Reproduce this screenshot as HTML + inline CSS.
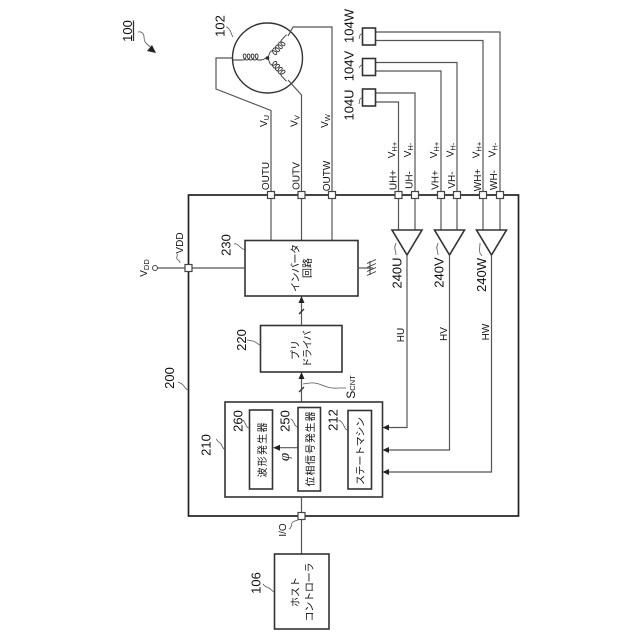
<!DOCTYPE html>
<html><head><meta charset="utf-8"><style>
html,body{margin:0;padding:0;background:#fff}
svg{display:block}
text{font-family:"Liberation Sans","Noto Sans CJK JP",sans-serif;fill:#111;text-anchor:middle}
.l{fill:none;stroke:#555;stroke-width:1.2}
.d{fill:none;stroke:#333;stroke-width:1.3}
.b{fill:#fff;stroke:#333;stroke-width:1.6}
.t{fill:#fff;stroke:#444;stroke-width:1.2}
.w{fill:none;stroke:#555;stroke-width:.8}
.c{fill:none;stroke:#333;stroke-width:.9}
.n{font-size:13px}
.s{font-size:10px}
.j{font-size:10px}
.a{fill:#222;stroke:none}
tspan.u{font-size:7.5px}
</style></head><body>
<svg width="640" height="640" viewBox="0 0 640 640" xmlns="http://www.w3.org/2000/svg">
<!-- outer box -->
<rect x="188.5" y="195" width="330" height="321" fill="none" stroke="#222" stroke-width="1.7"/>

<!-- motor -->
<circle cx="267.5" cy="58" r="35" fill="#fff" stroke="#333" stroke-width="1.4"/>
<circle cx="267.5" cy="58" r="1.8" fill="#222"/>
<path class="c" transform="translate(267.5 58)" d="M0 0c-3 0-4 2-6 2h-3c-3 0-4.500-6-2-6s2 6-2 6c-3 0-4.500-6-2-6s2 6-2 6c-3 0-4.500-6-2-6s2 6-2 6c-3 0-4.500-6-2-6s2 6-2 6h-10"/>
<path class="c" transform="translate(267.5 58) rotate(133)" d="M0 0c-3 0-4 2-6 2h-1c-3 0-4.500-6-2-6s2 6-2 6c-3 0-4.500-6-2-6s2 6-2 6c-3 0-4.500-6-2-6s2 6-2 6c-3 0-4.500-6-2-6s2 6-2 6h-7"/>
<path class="c" transform="translate(267.5 58) rotate(-133)" d="M0 0c-3 0-4-2-6-2h-1c-3 0-4.500 6-2 6s2-6-2-6c-3 0-4.500 6-2 6s2-6-2-6c-3 0-4.500 6-2 6s2-6-2-6c-3 0-4.500 6-2 6s2-6-2-6h-7"/>
<path class="w" d="M233 37c-2-3-2-6-4-8s-2-2-3-2"/>

<!-- motor output lines -->
<path class="l" d="M232 58H216V89L271 110.500V240"/>
<path class="l" d="M288 80L301.500 95V240"/>
<path class="l" d="M288 36L293 27H332V240"/>

<!-- Hall sensors -->
<path class="l" d="M375 32H500V230"/>
<path class="l" d="M375 40.500H483V230"/>
<path class="l" d="M375 62.500H457V230"/>
<path class="l" d="M375 71H441V230"/>
<path class="l" d="M375 93H415V230"/>
<path class="l" d="M375 102H398.500V230"/>
<rect class="b" x="362.500" y="28" width="13" height="17"/>
<rect class="b" x="362.500" y="58.500" width="13" height="17"/>
<rect class="b" x="362.500" y="89" width="13" height="17"/>
<path class="w" d="M362 34c-3 0-2 3-3 5"/>
<path class="w" d="M362 65c-2 0-2 2-3 3"/>
<path class="w" d="M362 98c-3 0-2 3-3 6"/>

<!-- amps -->
<path class="b" fill="#fff" d="M392 230H422L407 255Z"/>
<path class="b" d="M434.500 230H464.500L449.500 255Z"/>
<path class="b" d="M476.500 230H506.500L491.500 255Z"/>
<path class="l" d="M407 255V427.500H388"/>
<path class="l" d="M449.500 255V450H388"/>
<path class="l" d="M491.500 255V472H388"/>
<path class="a" d="M382.500 427.500L389 424.500V430.500Z"/>
<path class="a" d="M382.500 450L389 447V453Z"/>
<path class="a" d="M382.500 472L389 469V475Z"/>
<path class="w" d="M396 243c0 2-2 3-1 6c0 3 1 2 1 6"/>
<path class="w" d="M438 243c0 2-2 3-1 6c0 3 1 2 1 6"/>
<path class="w" d="M480 243c0 4-1 7 0 10c0 1 1 1 2 3"/>

<!-- inverter -->
<rect class="b" x="245" y="240.500" width="113" height="55.500"/>
<path class="l" d="M155 268H245"/>
<path class="l" d="M358 268H373"/>
<path class="c" d="M370 261V275M367 263.500L376 259.500M367 267.500L376 263.500M367 271.500L376 267.500M367 275.500L376 271.500"/>
<circle cx="155" cy="268" r="2.500" fill="#fff" stroke="#444" stroke-width="1"/>
<path class="w" d="M180 263c0-3-2-2-3-4s1-3 0-5"/>
<path class="w" d="M245 250c-3-1-5-3-7-5s-3-1-4-1"/>

<!-- predriver -->
<rect class="b" x="260.500" y="325.500" width="81.500" height="46.500"/>
<path class="l" d="M301.500 325.500V300"/>
<path class="a" d="M301.500 296L298.500 303H304.500Z"/>
<path class="d" stroke-width=".9" d="M299 314L304 309"/>
<path class="l" d="M301.500 402V376"/>
<path class="a" d="M301.500 372L298.500 379H304.500Z"/>
<path class="d" stroke-width=".9" d="M299 392L304 387"/>
<path class="w" d="M303 384c6-1 10-2 16 0s10 5 20 4h7"/>
<path class="w" d="M260 345c-3-1-5-4-7-4s-4-1-6-1"/>

<!-- block 210 -->
<rect class="b" x="225" y="402" width="157.500" height="95"/>
<rect class="b" x="249.500" y="410" width="23" height="79"/>
<rect class="b" x="298" y="407.500" width="22.500" height="83.500"/>
<rect class="b" x="348" y="410.500" width="23.500" height="78.500"/>
<path class="l" d="M297.500 447.700H278"/>
<path class="a" d="M273 447.700L280 444.700V450.700Z"/>
<path class="w" d="M225 450c-3-2-3-6-5-7s-3-3-4-4"/>
<path class="w" d="M249 428c-2 0-3-3-4-5s-2-3-3-3"/>
<path class="w" d="M297.500 427c-2 0-3-3-4-5s-2-3-3-3"/>
<path class="w" d="M347.500 430c-2 0-3-3-4-5s-2-4-5-5"/>
<path class="w" d="M188 390c-3-1-3-3-5-5s-3-2-5-3"/>

<!-- I/O and host -->
<path class="l" d="M301.500 497V554"/>
<rect class="b" x="274.500" y="554" width="54.500" height="75"/>
<path class="w" d="M298 520c-3 1-5 1-6 3s0 5-3 6"/>
<path class="w" d="M274 592c-2-1-3-3-5-4s-4-1-6-4"/>

<!-- terminals -->
<g class="t">
<rect x="267.500" y="191.500" width="7" height="7"/>
<rect x="298" y="191.500" width="7" height="7"/>
<rect x="328.500" y="191.500" width="7" height="7"/>
<rect x="395" y="191.500" width="7" height="7"/>
<rect x="411.500" y="191.500" width="7" height="7"/>
<rect x="437.500" y="191.500" width="7" height="7"/>
<rect x="453.500" y="191.500" width="7" height="7"/>
<rect x="479.500" y="191.500" width="7" height="7"/>
<rect x="496.500" y="191.500" width="7" height="7"/>
<rect x="185" y="264.500" width="7" height="7"/>
<rect x="298" y="512.500" width="7" height="7"/>
</g>

<!-- ref 100 -->
<path class="d" stroke-width="1.200" d="M133.500 20.500V41"/>
<path class="w" d="M138 32c4-1 6 2 6 5s1 6 4 8s3 3 4 4"/>
<path class="a" d="M156 53L147 51L152 45Z"/>

<!-- numbers -->
<g class="n">
<text transform="translate(132 31) rotate(-90)">100</text>
<text transform="translate(224.500 26) rotate(-90)">102</text>
<text transform="translate(353.500 26) rotate(-90)">104W</text>
<text transform="translate(353.500 66) rotate(-90)">104V</text>
<text transform="translate(353.500 105) rotate(-90)">104U</text>
<text transform="translate(230.500 245) rotate(-90)">230</text>
<text transform="translate(246 340) rotate(-90)">220</text>
<text transform="translate(174 378) rotate(-90)">200</text>
<text transform="translate(210.500 445) rotate(-90)">210</text>
<text transform="translate(242.500 421) rotate(-90)">260</text>
<text transform="translate(289.500 421) rotate(-90)">250</text>
<text transform="translate(337.500 420) rotate(-90)">212</text>
<text transform="translate(260.500 583) rotate(-90)">106</text>
<text transform="translate(401.500 273) rotate(-90)">240U</text>
<text transform="translate(443.500 272.500) rotate(-90)">240V</text>
<text transform="translate(486 275) rotate(-90)">240W</text>
</g>

<!-- signal labels -->
<g class="s">
<text transform="translate(269 176) rotate(-90)">OUTU</text>
<text transform="translate(299.500 176) rotate(-90)">OUTV</text>
<text transform="translate(330 176) rotate(-90)">OUTW</text>
<text transform="translate(267 121) rotate(-90)">V<tspan class="u" dy="2">U</tspan></text>
<text transform="translate(297.500 121) rotate(-90)">V<tspan class="u" dy="2">V</tspan></text>
<text transform="translate(328 121) rotate(-90)">V<tspan class="u" dy="2">W</tspan></text>
<text transform="translate(396.500 180) rotate(-90)">UH+</text>
<text transform="translate(412.500 180) rotate(-90)">UH-</text>
<text transform="translate(438.500 180) rotate(-90)">VH+</text>
<text transform="translate(455 180) rotate(-90)">VH-</text>
<text transform="translate(481 180) rotate(-90)">WH+</text>
<text transform="translate(497 180) rotate(-90)">WH-</text>
<text transform="translate(395 150) rotate(-90)">V<tspan class="u" dy="2">H+</tspan></text>
<text transform="translate(411 150) rotate(-90)">V<tspan class="u" dy="2">H-</tspan></text>
<text transform="translate(437 150) rotate(-90)">V<tspan class="u" dy="2">H+</tspan></text>
<text transform="translate(453.500 150) rotate(-90)">V<tspan class="u" dy="2">H-</tspan></text>
<text transform="translate(479.500 150) rotate(-90)">V<tspan class="u" dy="2">H+</tspan></text>
<text transform="translate(495.500 150) rotate(-90)">V<tspan class="u" dy="2">H-</tspan></text>
<text transform="translate(147 268) rotate(-90)">V<tspan class="u" dy="2">DD</tspan></text>
<text transform="translate(183 243) rotate(-90)">VDD</text>
<text transform="translate(404 335) rotate(-90)">HU</text>
<text transform="translate(447 334) rotate(-90)">HV</text>
<text transform="translate(489 332) rotate(-90)">HW</text>
<text transform="translate(286 530) rotate(-90)">I/O</text>
<text transform="translate(355 387) rotate(-90)" style="font-size:12px">S<tspan class="u">CNT</tspan></text>
<text transform="translate(289 457) rotate(-90)" style="font-size:15px;font-style:italic;font-family:'Liberation Serif',serif">φ</text>
</g>

<!-- Japanese labels -->
<g class="j">
<text transform="translate(299 268) rotate(-90)" textLength="48" lengthAdjust="spacing">インバータ</text>
<text transform="translate(311 268) rotate(-90)">回路</text>
<text transform="translate(299 350) rotate(-90)">プリ</text>
<text transform="translate(311 349) rotate(-90)" textLength="37" lengthAdjust="spacing">ドライバ</text>
<text transform="translate(266 450) rotate(-90)" textLength="55" lengthAdjust="spacing">波形発生器</text>
<text transform="translate(314 449) rotate(-90)" textLength="75" lengthAdjust="spacing">位相信号発生器</text>
<text transform="translate(364 451) rotate(-90)" textLength="68" lengthAdjust="spacing">ステートマシン</text>
<text transform="translate(299 592) rotate(-90)">ホスト</text>
<text transform="translate(313 592) rotate(-90)" textLength="59" lengthAdjust="spacing">コントローラ</text>
</g>
</svg>
</body></html>
